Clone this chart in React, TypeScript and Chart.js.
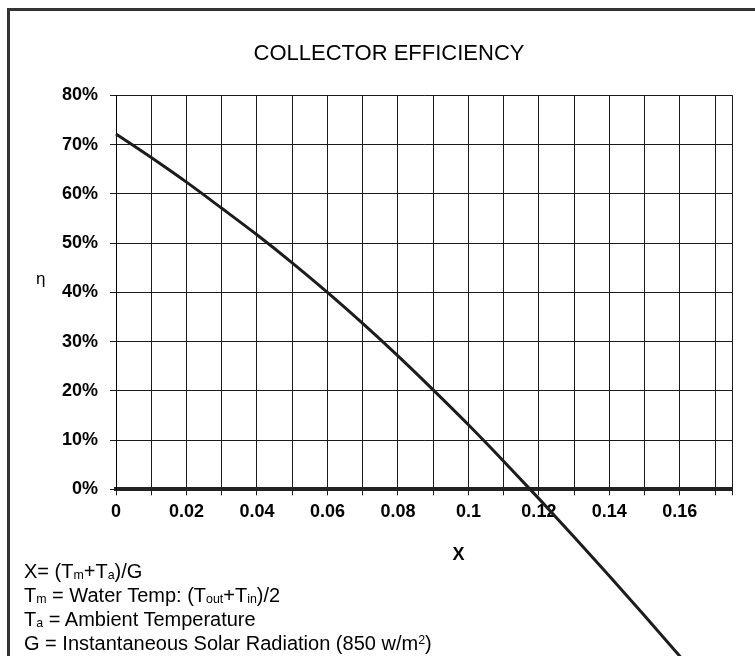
import React, { useEffect, useRef } from 'react';
import { Chart, registerables } from 'chart.js';

Chart.register(...registerables);

// ---- data ----
const xValues = [0, 0.01, 0.02, 0.03, 0.04, 0.05, 0.06, 0.07, 0.08, 0.09, 0.1, 0.11, 0.12, 0.13, 0.14, 0.15, 0.16, 0.17];
const efficiencyPct = [72.2, 67.4, 62.4, 57.1, 51.7, 46.0, 40.0, 33.7, 27.1, 20.2, 13.1, 5.7, -1.9, -9.7, -17.6, -25.7, -33.9, -42.2];

const xGridValues = [0, 0.01, 0.02, 0.03, 0.04, 0.05, 0.06, 0.07, 0.08, 0.09, 0.1, 0.11, 0.12, 0.13, 0.14, 0.15, 0.16, 0.17, 0.175];
const xLabelValues = [0, 0.02, 0.04, 0.06, 0.08, 0.1, 0.12, 0.14, 0.16];
const xTickLabels = ['0', '0.02', '0.04', '0.06', '0.08', '0.1', '0.12', '0.14', '0.16'];
const yTickValues = [0, 10, 20, 30, 40, 50, 60, 70, 80];
const yTickLabels = ['0%', '10%', '20%', '30%', '40%', '50%', '60%', '70%', '80%'];

const chartTitle = 'COLLECTOR EFFICIENCY';
const xAxisTitle = 'X';
const yAxisTitle = 'η';

const FONT = '"Liberation Sans", Arial, Helvetica, sans-serif';

const sub: React.CSSProperties = { fontSize: '0.62em', verticalAlign: '-0.12em', lineHeight: 0 };
const sup: React.CSSProperties = { fontSize: '0.62em', verticalAlign: '0.45em', lineHeight: 0 };

export default function App() {
  const canvasRef = useRef<HTMLCanvasElement | null>(null);

  useEffect(() => {
    if (!canvasRef.current) return;
    Chart.defaults.font.family = FONT;
    const chart = new Chart(canvasRef.current, {
      type: 'line',
      data: {
        datasets: [
          {
            data: xValues.map((x, i) => ({ x, y: efficiencyPct[i] })),
            borderColor: '#1c1c1c',
            borderWidth: 3,
            pointRadius: 0,
            fill: false,
            cubicInterpolationMode: 'monotone',
            clip: false as any,
          },
        ],
      },
      options: {
        animation: false,
        responsive: false,
        maintainAspectRatio: false,
        layout: { padding: { left: 0, top: 95.5, right: 22.3, bottom: 126.7 } },
        plugins: { legend: { display: false }, tooltip: { enabled: false }, title: { display: false } },
        scales: {
          x: {
            type: 'linear',
            min: 0,
            max: 0.175,
            afterBuildTicks: (scale: any) => {
              scale.ticks = xGridValues.map((v) => ({ value: v }));
            },
            afterFit: (scale: any) => {
              scale.height = 40;
            },
            grid: { color: '#1a1a1a', lineWidth: 1, drawTicks: true, tickLength: 6, tickColor: '#1a1a1a' },
            border: { display: true, color: '#222', width: 4 },
            ticks: {
              autoSkip: false,
              maxRotation: 0,
              minRotation: 0,
              padding: 6,
              color: '#000',
              font: { size: 18, weight: 'bold', family: FONT },
              callback: (value: any) => {
                const i = xLabelValues.findIndex((v) => Math.abs(v - Number(value)) < 1e-9);
                return i >= 0 ? xTickLabels[i] : '';
              },
            },
          },
          y: {
            type: 'linear',
            min: 0,
            max: 80,
            afterBuildTicks: (scale: any) => {
              scale.ticks = yTickValues.map((v) => ({ value: v }));
            },
            afterFit: (scale: any) => {
              scale.width = 116;
            },
            grid: { color: '#1a1a1a', lineWidth: 1, drawTicks: true, tickLength: 6, tickColor: '#1a1a1a' },
            border: { display: true, color: '#000', width: 1 },
            ticks: {
              autoSkip: false,
              padding: 12,
              color: '#000',
              font: { size: 18, weight: 'bold', family: FONT },
              callback: (value: any) => {
                const i = yTickValues.indexOf(Number(value));
                return i >= 0 ? yTickLabels[i] : '';
              },
            },
          },
        },
      },
    } as any);
    return () => chart.destroy();
  }, []);

  const lineStyle = (top: number): React.CSSProperties => ({
    position: 'absolute',
    left: 24,
    top,
    lineHeight: '23.5px',
    fontSize: 20,
    fontFamily: FONT,
    color: '#000',
    whiteSpace: 'nowrap',
  });

  return (
    <div
      style={{
        position: 'fixed',
        left: 0,
        top: 0,
        width: 755,
        height: 656,
        overflow: 'hidden',
        background: '#fff',
        fontFamily: FONT,
      }}
    >
      <canvas ref={canvasRef} width={755} height={656} style={{ position: 'absolute', left: 0, top: 0, width: 755, height: 656 }} />
      <div
        style={{
          position: 'absolute',
          left: 7,
          top: 8,
          width: 800,
          height: 700,
          borderLeft: '3px solid #333',
          borderTop: '3px solid #333',
          pointerEvents: 'none',
        }}
      />
      <div
        style={{
          position: 'absolute',
          left: 0,
          width: 778,
          top: 40,
          lineHeight: '26px',
          fontSize: 22,
          textAlign: 'center',
          color: '#000',
          whiteSpace: 'nowrap',
        }}
      >
        {chartTitle}
      </div>
      <div style={{ position: 'absolute', left: 36, top: 269, lineHeight: '20px', fontSize: 17, color: '#000' }}>{yAxisTitle}</div>
      <div
        style={{
          position: 'absolute',
          left: 448.5,
          width: 20,
          top: 543,
          lineHeight: '22px',
          fontSize: 18,
          fontWeight: 'bold',
          textAlign: 'center',
          color: '#000',
        }}
      >
        {xAxisTitle}
      </div>
      <div style={lineStyle(560)}>
        X= (T<span style={sub}>m</span>+T<span style={sub}>a</span>)/G
      </div>
      <div style={lineStyle(583.5)}>
        T<span style={sub}>m</span> = Water Temp: (T<span style={sub}>out</span>+T<span style={sub}>in</span>)/2
      </div>
      <div style={lineStyle(607.5)}>
        T<span style={sub}>a</span> = Ambient Temperature
      </div>
      <div style={lineStyle(631.5)}>
        G = Instantaneous Solar Radiation (850 w/m<span style={sup}>2</span>)
      </div>
    </div>
  );
}
